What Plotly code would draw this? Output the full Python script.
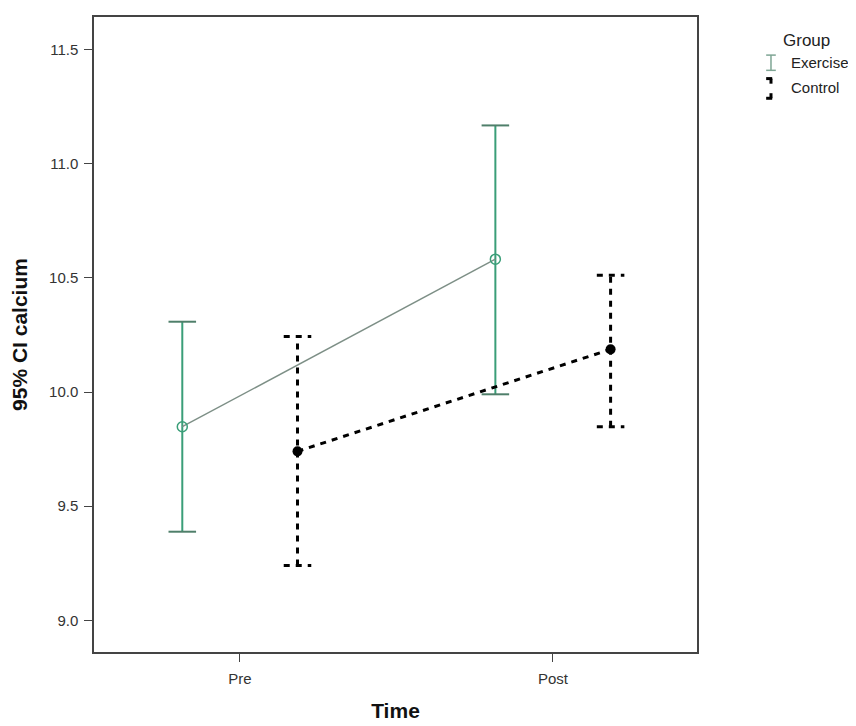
import plotly.graph_objects as go

times = ["Pre", "Post"]
groups = ["Exercise", "Control"]
ex_mean = [9.848, 10.582]
ex_upper = [10.308, 11.168]
ex_lower = [9.388, 9.990]
ct_mean = [9.740, 10.187]
ct_upper = [10.243, 10.512]
ct_lower = [9.240, 9.848]
y_ticks = [9.0, 9.5, 10.0, 10.5, 11.0, 11.5]

offset = 0.184
cap = 0.044
green = "#3a9e78"
capgreen = "#4f7f6a"

fig = go.Figure()

def bars(xs, lo, hi, color, dash, width, capcolor):
    vx, vy, cx, cy = [], [], [], []
    for x, l, h in zip(xs, lo, hi):
        vx += [x, x, None]
        vy += [l, h, None]
        for v in (l, h):
            cx += [x - cap, x + cap, None]
            cy += [v, v, None]
    fig.add_trace(go.Scatter(x=vx, y=vy, mode="lines", showlegend=False,
                             line=dict(color=color, width=width, dash=dash), hoverinfo="skip"))
    fig.add_trace(go.Scatter(x=cx, y=cy, mode="lines", showlegend=False,
                             line=dict(color=capcolor, width=width, dash=dash), hoverinfo="skip"))

ex_x = [i - offset for i in range(len(times))]
ct_x = [i + offset for i in range(len(times))]

bars(ex_x, ex_lower, ex_upper, green, "solid", 2, capgreen)
bars(ct_x, ct_lower, ct_upper, "black", "6px,6px", 3, "black")

fig.add_trace(go.Scatter(x=ex_x, y=ex_mean, mode="lines+markers", name=groups[0],
                         line=dict(color="#7d8f86", width=1.5),
                         marker=dict(symbol="circle-open", size=10, color=green, line=dict(width=1.5)),
                         showlegend=False))
fig.add_trace(go.Scatter(x=ct_x, y=ct_mean, mode="lines+markers", name=groups[1],
                         line=dict(color="black", width=3, dash="6px,6px"),
                         marker=dict(symbol="circle", size=10, color="black"),
                         showlegend=False))

# manual legend
fig.add_annotation(x=1.140, y=0.9625, xref="paper", yref="paper", text="Group", showarrow=False,
                   xanchor="left", yanchor="middle", font=dict(size=17, color="#222"))
fig.add_annotation(x=1.152, y=0.928, xref="paper", yref="paper", text="Exercise", showarrow=False,
                   xanchor="left", yanchor="middle", font=dict(size=15, color="#222"))
fig.add_annotation(x=1.152, y=0.889, xref="paper", yref="paper", text="Control", showarrow=False,
                   xanchor="left", yanchor="middle", font=dict(size=15, color="#222"))
lx = 1.1227
dw = 0.008
y0, y1 = 0.916, 0.940
fig.add_shape(type="line", xref="paper", yref="paper", x0=lx, x1=lx, y0=y0, y1=y1,
              line=dict(color="#7ea594", width=1.5))
for yy in (y0, y1):
    fig.add_shape(type="line", xref="paper", yref="paper", x0=lx - dw, x1=lx + dw, y0=yy, y1=yy,
                  line=dict(color="#7ea594", width=1.5))
fig.add_shape(type="line", xref="paper", yref="paper", x0=lx, x1=lx, y0=0.895, y1=0.903,
              line=dict(color="black", width=3))
fig.add_shape(type="line", xref="paper", yref="paper", x0=lx - dw, x1=lx + 0.002, y0=0.903, y1=0.903,
              line=dict(color="black", width=3))
fig.add_shape(type="line", xref="paper", yref="paper", x0=lx, x1=lx, y0=0.872, y1=0.880,
              line=dict(color="black", width=3))
fig.add_shape(type="line", xref="paper", yref="paper", x0=lx - dw, x1=lx + 0.002, y0=0.872, y1=0.872,
              line=dict(color="black", width=3))

fig.update_layout(
    width=848, height=718,
    margin=dict(l=86, r=159, t=7, b=71),
    paper_bgcolor="white", plot_bgcolor="white",
    font=dict(family="Liberation Sans, Arial, sans-serif", size=15, color="#333"),
    showlegend=False,
)
fig.update_xaxes(
    range=[-0.466, 1.46], tickvals=list(range(len(times))), ticktext=times,
    showgrid=False, zeroline=False, showline=True, linecolor="#444", linewidth=1.5, mirror=True,
    ticks="outside", ticklen=8, tickcolor="#444", tickfont=dict(size=15, color="#333"),
    ticklabelstandoff=4,
    title=dict(text="<b>Time</b>", font=dict(size=21, color="#111"), standoff=18),
)
fig.update_yaxes(
    range=[8.861, 11.643], tickvals=y_ticks, ticktext=[f"{v:.1f}" for v in y_ticks],
    showgrid=False, zeroline=False, showline=True, linecolor="#444", linewidth=1.5, mirror=True,
    ticks="outside", ticklen=8, tickcolor="#444", tickfont=dict(size=15, color="#333"),
    ticklabelstandoff=3,
    title=dict(text="<b>95% CI calcium</b>", font=dict(size=21, color="#111"), standoff=18),
)

fig.write_html("out.html")
